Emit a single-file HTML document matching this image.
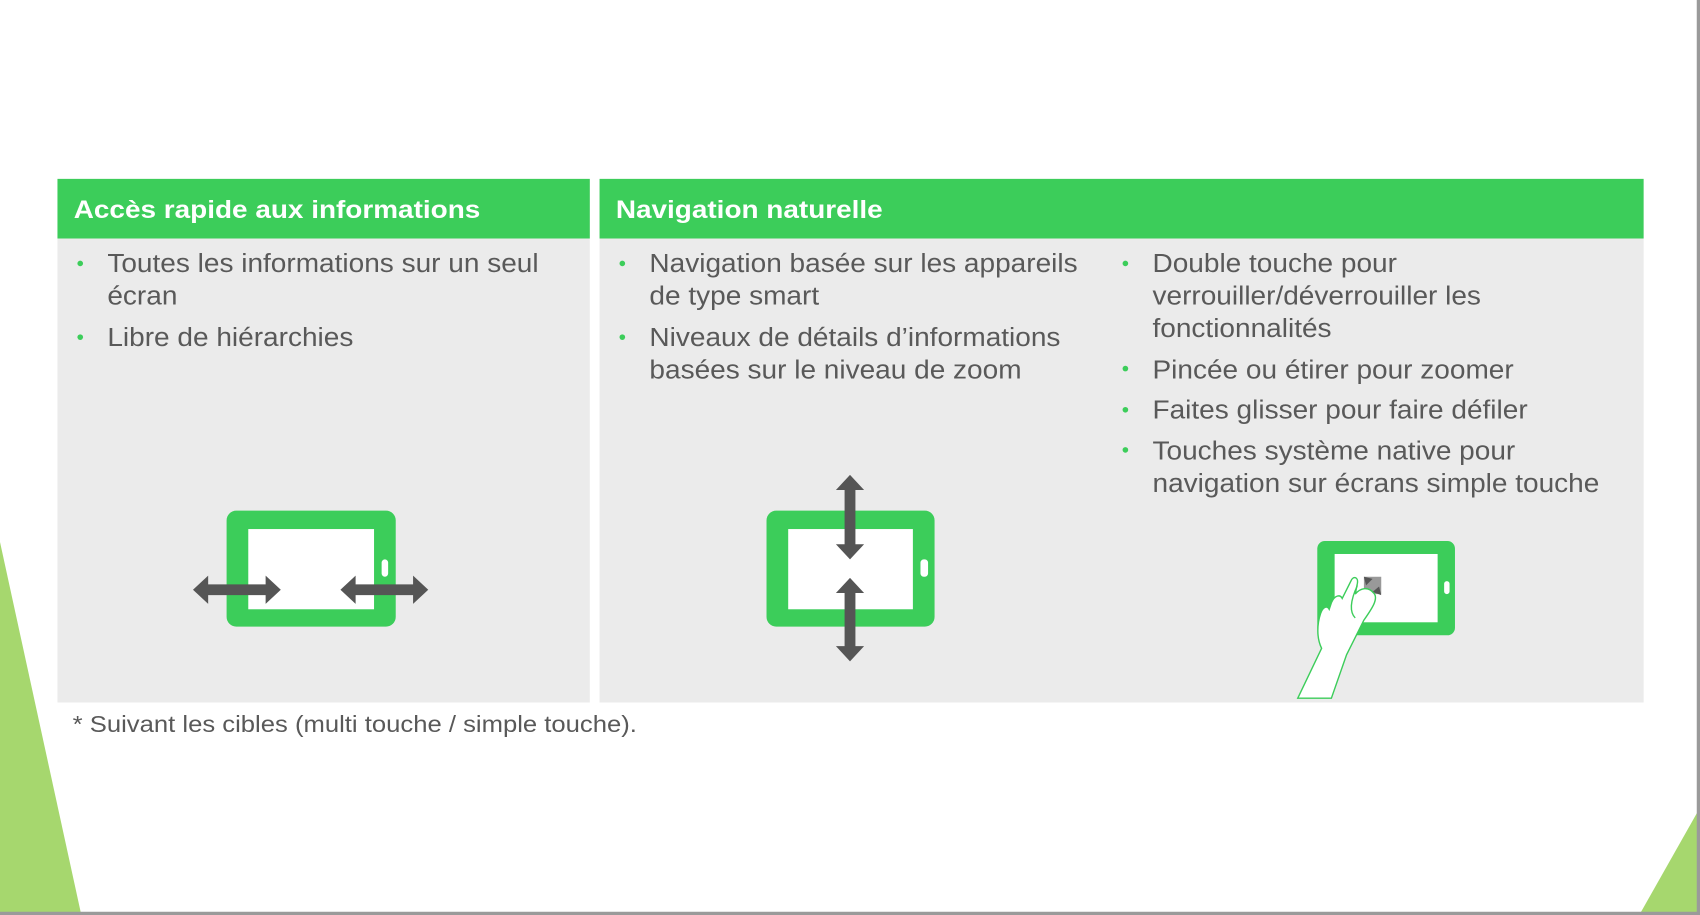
<!DOCTYPE html>
<html><head><meta charset="utf-8"><style>html,body{margin:0;padding:0;background:#fff;width:1700px;height:915px;overflow:hidden}svg{display:block}</style></head>
<body>
<svg width="1700" height="915" viewBox="0 0 1568 844" preserveAspectRatio="none" xmlns="http://www.w3.org/2000/svg" font-family="Liberation Sans, Arial, sans-serif">
<rect width="1568" height="844" fill="#fff"/>
<polygon points="0,500 75,844 0,844" fill="#a6d76e"/>
<polygon points="1568,745 1512,844 1568,844" fill="#a6d76e"/>
<rect x="1565" y="0" width="3" height="844" fill="#9a9a9a"/>
<rect x="0" y="841" width="1568" height="3" fill="#9a9a9a"/>
<rect x="53" y="165" width="491" height="483" fill="#ebebeb"/>
<rect x="53" y="165" width="491" height="55" fill="#3ccd5a"/>
<rect x="553" y="165" width="963" height="483" fill="#ebebeb"/>
<rect x="553" y="165" width="963" height="55" fill="#3ccd5a"/>
<g fill="#fff" font-weight="bold" font-size="23">
<g transform="translate(68,0) scale(1.12,1)"><text x="0" y="201">Accès rapide aux informations</text></g>
<g transform="translate(568,0) scale(1.12,1)"><text x="0" y="201">Navigation naturelle</text></g>
</g>
<g fill="#3ccd5a">
<circle cx="74" cy="243" r="2.6"/><circle cx="74" cy="311" r="2.6"/>
<circle cx="574" cy="243" r="2.6"/><circle cx="574" cy="311" r="2.6"/>
<circle cx="1038" cy="243" r="2.6"/><circle cx="1038" cy="340" r="2.6"/><circle cx="1038" cy="378" r="2.6"/><circle cx="1038" cy="415" r="2.6"/>
</g>
<g fill="#595959" font-size="23.5">
<g transform="translate(99,0) scale(1.1,1)">
<text x="0" y="251">Toutes les informations sur un seul</text>
<text x="0" y="281">écran</text>
<text x="0" y="319">Libre de hiérarchies</text>
</g>
<g transform="translate(599,0) scale(1.1,1)">
<text x="0" y="251">Navigation basée sur les appareils</text>
<text x="0" y="281">de type smart</text>
<text x="0" y="319">Niveaux de détails d’informations</text>
<text x="0" y="349">basées sur le niveau de zoom</text>
</g>
<g transform="translate(1063,0) scale(1.1,1)">
<text x="0" y="251">Double touche pour</text>
<text x="0" y="281">verrouiller/déverrouiller les</text>
<text x="0" y="311">fonctionnalités</text>
<text x="0" y="349">Pincée ou étirer pour zoomer</text>
<text x="0" y="386">Faites glisser pour faire défiler</text>
<text x="0" y="424">Touches système native pour</text>
<text x="0" y="454">navigation sur écrans simple touche</text>
</g>
</g>
<g transform="translate(67,0) scale(1.1,1)"><text x="0" y="675" fill="#595959" font-size="21.5">* Suivant les cibles (multi touche / simple touche).</text></g>
<rect x="209" y="471" width="156" height="107" rx="9" fill="#3ccd5a"/>
<rect x="229" y="488" width="116" height="74" fill="#fff"/>
<rect x="352" y="516" width="6" height="16" rx="3" fill="#fff"/>
<g fill="#555">
<polygon points="178,544 192,531 192,539 245,539 245,531 259,544 245,557 245,549 192,549 192,557"/>
<polygon points="314,544 328,531 328,539 381,539 381,531 395,544 381,557 381,549 328,549 328,557"/>
</g>
<rect x="707" y="471" width="155" height="107" rx="9" fill="#3ccd5a"/>
<rect x="727" y="488" width="115" height="74" fill="#fff"/>
<rect x="849" y="516" width="7" height="16" rx="3" fill="#fff"/>
<g fill="#555">
<polygon points="784,438 771,452 779,452 779,502 771,502 784,516 797,502 789,502 789,452 797,452"/>
<polygon points="784,533 771,547 779,547 779,596 771,596 784,610 797,596 789,596 789,547 797,547"/>
</g>
<rect x="1215" y="499" width="127" height="87" rx="7" fill="#3ccd5a"/>
<rect x="1231" y="511" width="95" height="63" fill="#fff"/>
<rect x="1332" y="536" width="5" height="12" rx="2.5" fill="#fff"/>
<rect x="1258" y="532" width="16" height="16" fill="#999"/>
<polygon points="1258,532 1266,534 1260,540" fill="#555"/>
<polygon points="1274,549 1266,546 1272,541" fill="#555"/>
<path d="M1197,644 L1219,598 C1214,588 1215,575 1218,566 C1220,560 1224,558 1226,562 L1228,556 C1231,549 1236,548 1238,552 L1246,536 C1248,531 1253,532 1252,538 L1250,548 C1255,542 1262,541 1267,547 C1272,552 1265,562 1258,572 C1253,582 1248,592 1242,604 L1228,644 Z" fill="#fff" stroke="#3ccd5a" stroke-width="1.3"/>
<path d="M1252,540 C1245,555 1245,565 1250,570" fill="none" stroke="#3ccd5a" stroke-width="1.2"/>
</svg>
</body></html>
